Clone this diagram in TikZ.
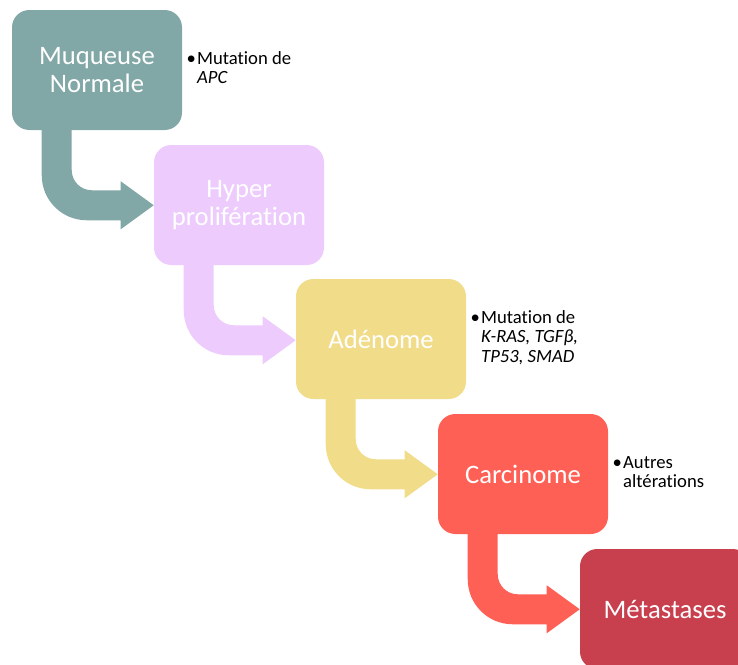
\documentclass[tikz,border=0pt]{standalone}
\usepackage{fontspec}
\setmainfont[Ligatures=NoCommon]{Carlito}
\usetikzlibrary{backgrounds}
\definecolor{cA}{RGB}{129,168,166}
\definecolor{cB}{RGB}{237,203,253}
\definecolor{cC}{RGB}{241,220,138}
\definecolor{cD}{RGB}{254,96,86}
\definecolor{cE}{RGB}{200,64,78}
\tikzset{
  stage/.style={rectangle, rounded corners=13pt, minimum width=127.5pt, minimum height=90pt,
    fill=#1, draw=none, text=white, align=center, inner sep=0pt,
    font=\fontsize{20}{21}\selectfont},
  note/.style={anchor=west, inner sep=0pt, font=\fontsize{14}{14.8}\selectfont},
}
\newcommand{\bentarr}[2]{%
  \begin{scope}[shift={(#1.south west)}]
    \fill[#2] (30,-4) -- (30,45) .. controls (30,69.9) and (50.1,90) .. (75,90)
      -- (109,90) -- (109,99) -- (142,75) -- (109,51) -- (109,60) -- (80,60)
      .. controls (69,60) and (60,51) .. (60,40) -- (60,-4) -- cycle;
  \end{scope}}
\begin{document}
\begin{tikzpicture}[x=0.75pt,y=-0.75pt]
\clip (0,0) rectangle (738,664);
\node[stage=cA] (s1) at (97,70) {Muqueuse\\Normale};
\node[stage=cB] (s2) at (239,205) {Hyper\\prolifération};
\node[stage=cC] (s3) at (381,339) {Adénome};
\node[stage=cD] (s4) at (523,474) {Carcinome};
\node[stage=cE] (s5) at (665,609) {Métastases};
\begin{scope}[on background layer]
\bentarr{s1}{cA}
\bentarr{s2}{cB}
\bentarr{s3}{cC}
\bentarr{s4}{cD}
\end{scope}
\node[note] (n1) at ([xshift=3pt]s1.east) {\begin{tabular}{@{}l@{\hspace{1pt}}l@{}}•&Mutation de\\&\textit{APC}\end{tabular}};
\node[note] (n3) at ([xshift=3pt]s3.east) {\begin{tabular}{@{}l@{\hspace{1pt}}l@{}}•&Mutation de\\&\textit{K-RAS, TGFβ,}\\&\textit{TP53, SMAD}\end{tabular}};
\node[note] (n4) at ([xshift=3pt]s4.east) {\begin{tabular}{@{}l@{\hspace{1pt}}l@{}}•&Autres\\&altérations\end{tabular}};
\end{tikzpicture}
\end{document}
